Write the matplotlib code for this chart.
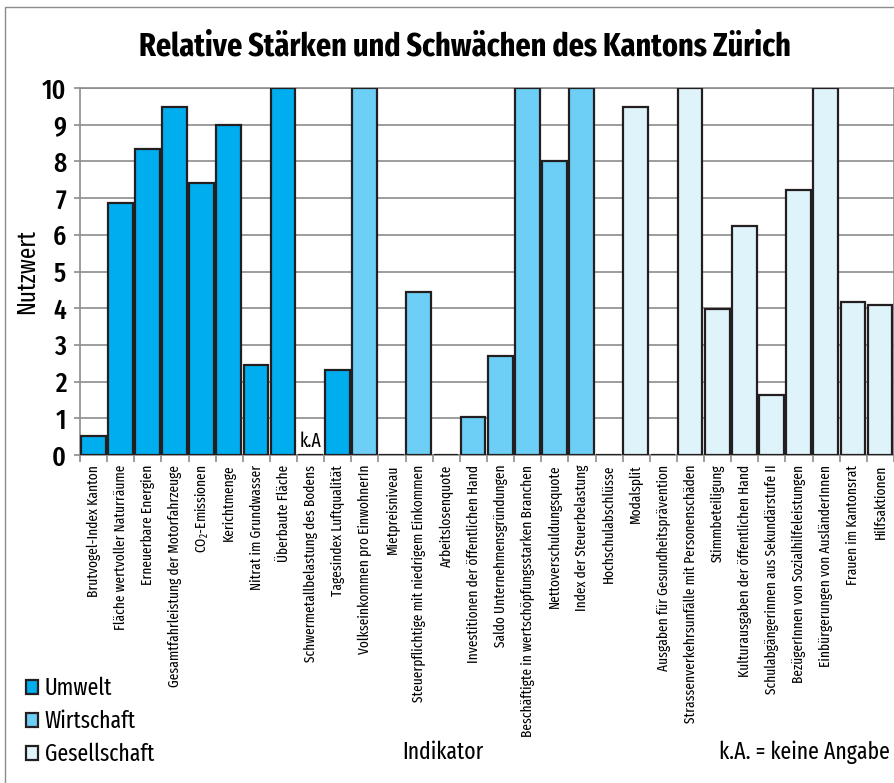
import matplotlib
matplotlib.use("Agg")
import matplotlib.pyplot as plt
from matplotlib.patches import Rectangle, Patch
import numpy as np

FONT = ["Fira Sans Extra Condensed", "DejaVu Sans"]
plt.rcParams["font.family"] = FONT
plt.rcParams["mathtext.fontset"] = "custom"
plt.rcParams["mathtext.rm"] = "Fira Sans Extra Condensed"
plt.rcParams["mathtext.it"] = "Fira Sans Extra Condensed"

categories = [
    "Brutvogel-Index Kanton", "Fläche wertvoller Naturräume", "Erneuerbare Energien",
    "Gesamtfahrleistung der Motorfahrzeuge", "CO$_2$-Emissionen", "Kerichtmenge",
    "Nitrat im Grundwasser", "Überbaute Fläche", "Schwermetallbelastung des Bodens",
    "Tagesindex Luftqualität", "Volkseinkommen pro EinwohnerIn", "Mietpreisniveau",
    "Steuerpflichtige mit niedrigem Einkommen", "Arbeitslosenquote",
    "Investitionen der öffentlichen Hand", "Saldo Unternehmensgründungen",
    "Beschäftigte in wertschöpfungsstarken Branchen", "Nettoverschuldungsquote",
    "Index der Steuerbelastung", "Hochschulabschlüsse", "Modalsplit",
    "Ausgaben für Gesundheitsprävention", "Strassenverkehrsunfälle mit Personenschäden",
    "Stimmbeteiligung", "Kulturausgaben der öffentlichen Hand",
    "Schulabgängerinnen aus Sekundärstufe II", "BezügerInnen von Sozialhilfeleistungen",
    "Einbürgerungen von AusländerInnen", "Frauen im Kantonsrat", "Hilfsaktionen",
]
groups = (["Umwelt"] * 10) + (["Wirtschaft"] * 9) + (["Gesellschaft"] * 11)
values = [0.52, 6.87, 8.34, 9.47, 7.41, 9.0, 2.45, 10.0, 0.0, 2.32,
          10.0, 0.0, 4.45, 0.0, 1.04, 2.70, 10.0, 8.0, 10.0,
          0.0, 9.49, 0.0, 10.0, 3.98, 6.23, 1.63, 7.22, 10.0, 4.17, 4.09]
no_data = ["Schwermetallbelastung des Bodens"]
group_names = ["Umwelt", "Wirtschaft", "Gesellschaft"]
group_colors = {"Umwelt": "#00AEEF", "Wirtschaft": "#6DCFF6", "Gesellschaft": "#DFF3FB"}
yticks = list(range(0, 11))

fig = plt.figure(figsize=(8.95, 7.83), dpi=100)
W, H = 895, 783

# outer frame (top and left visible)
fig.patches.append(Rectangle((5 / W, -0.05), 2.0, 1.05 - 7 / H, transform=fig.transFigure,
                             fill=False, edgecolor="#8c8c8c", linewidth=1.0))

ax = fig.add_axes([80 / W, (H - 455) / H, (894 - 80) / W, (455 - 88) / H])
x = np.arange(len(categories))
cols = [group_colors[g] for g in groups]
ax.bar(x + 0.03, values, width=0.91, align="edge", color=cols, edgecolor="#231F20",
       linewidth=1.6, zorder=3)

for name in no_data:
    i = categories.index(name)
    ax.text(i + 0.5, 0.1, "k.A", ha="center", va="bottom", fontsize=14, zorder=4)

ax.set_xlim(0, len(categories))
ax.set_ylim(0, 10)
ax.set_yticks(yticks)
ax.set_yticklabels([str(v) for v in yticks], fontsize=20, fontweight="medium")
ax.yaxis.grid(True, color="#8c8c8c", linewidth=1.2, zorder=0)
ax.set_axisbelow(True)
for s in ax.spines.values():
    s.set_color("#8c8c8c")
    s.set_linewidth(1.2)

ax.set_xticks(x + 0.5)
ax.set_xticklabels(categories, rotation=90, fontsize=10.5, va="top")
ax.set_xticks(np.arange(0, len(categories) + 1), minor=True)
ax.tick_params(axis="x", which="major", length=0, pad=7)
ax.tick_params(axis="x", which="minor", length=5, color="#8c8c8c", width=1.2)
ax.tick_params(axis="y", length=4, color="#8c8c8c", width=1.2, pad=6)

ax.set_ylabel("Nutzwert", fontsize=18, labelpad=2)

fig.text(465 / W, 1 - 47 / H, "Relative Stärken und Schwächen des Kantons Zürich",
         ha="center", va="center", fontsize=23.5, fontweight="bold")

handles = [Patch(facecolor=group_colors[g], edgecolor="#231F20", linewidth=1.6) for g in group_names]
leg = fig.legend(handles, group_names, loc="lower left", bbox_to_anchor=(14 / W, 5 / H),
                 frameon=False, fontsize=17, handlelength=0.5, handleheight=0.5,
                 handletextpad=0.3, labelspacing=0.42, borderpad=0)

fig.text(443 / W, 1 - 752 / H, "Indikator", ha="center", va="center", fontsize=17)
fig.text(890 / W, 1 - 752 / H, "k.A. = keine Angabe", ha="right", va="center", fontsize=17)

fig.savefig("out.png", dpi=100)
